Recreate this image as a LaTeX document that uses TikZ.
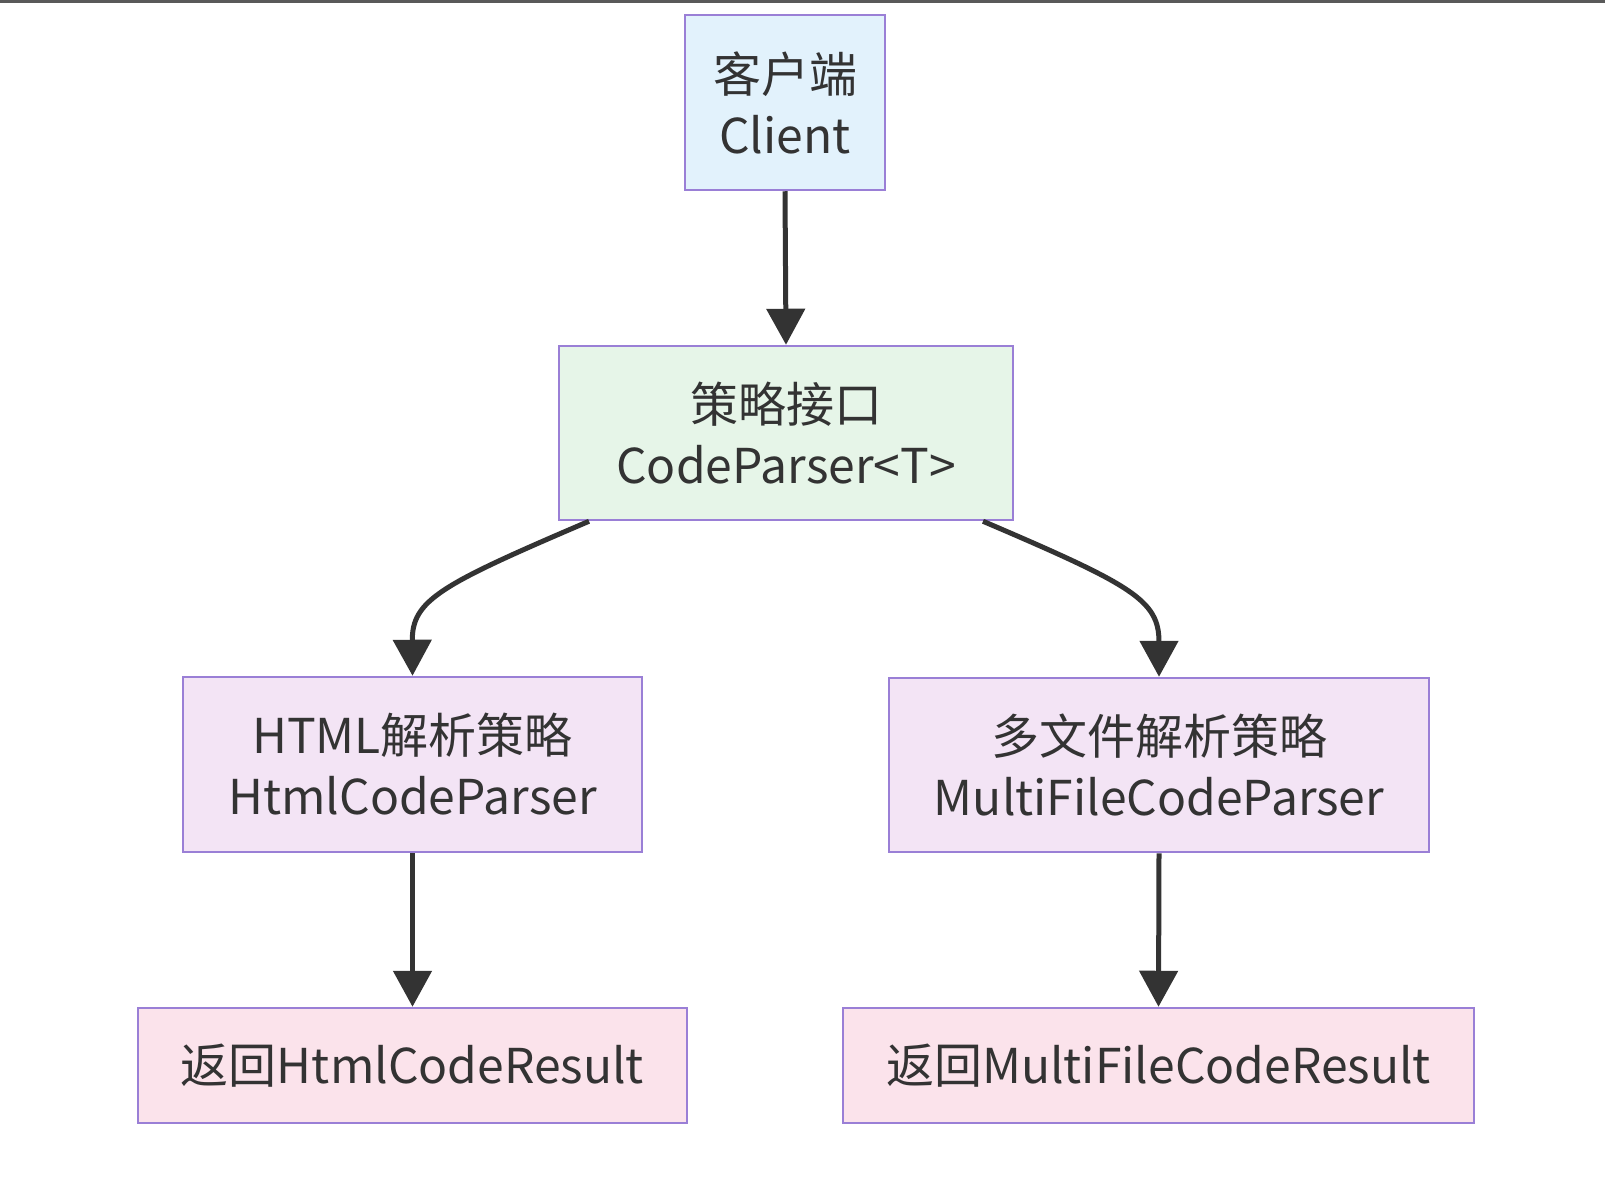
\documentclass[tikz,border=0pt]{standalone}
\usepackage{fontspec}
\setmainfont{Noto Sans CJK SC}
\usetikzlibrary{arrows.meta}
\definecolor{bordc}{HTML}{9A7FD6}
\definecolor{clientc}{HTML}{E2F2FC}
\definecolor{ifacec}{HTML}{E6F5E8}
\definecolor{stratc}{HTML}{F3E4F5}
\definecolor{resc}{HTML}{FBE3EB}
\definecolor{txtc}{HTML}{333333}
\tikzset{
  box/.style={draw=bordc, line width=2.5pt, inner sep=0pt, align=center,
    text=txtc, font=\fontsize{48}{61}\selectfont},
  conn/.style={draw=txtc, line width=5pt,
    -{Triangle[width=38pt,length=36pt]}},
}
\begin{document}
\begin{tikzpicture}[x=1pt,y=-1pt]
\useasboundingbox (0,0) rectangle (1605,1190);
\fill[white] (0,0) rectangle (1605,1190);
\fill[black!65] (0,0) rectangle (1605,3);
\node[box, fill=clientc, minimum width=200pt, minimum height=175pt] (client) at (785,102.5) {客户端\\Client};
\node[box, fill=ifacec, minimum width=454pt, minimum height=174pt] (iface) at (786,433) {策略接口\\CodeParser<T>};
\node[box, fill=stratc, minimum width=459pt, minimum height=175pt] (html) at (412.5,764.5) {HTML解析策略\\HtmlCodeParser};
\node[box, fill=stratc, minimum width=540pt, minimum height=174pt] (multi) at (1159,765) {多文件解析策略\\MultiFileCodeParser};
\node[box, fill=resc, minimum width=549pt, minimum height=115pt] (hres) at (412.5,1065.5) {返回HtmlCodeResult};
\node[box, fill=resc, minimum width=631pt, minimum height=115pt] (mres) at (1158.5,1065.5) {返回MultiFileCodeResult};
\coordinate (i1) at ([xshift=-197pt]iface.south);
\coordinate (i2) at ([xshift=197pt]iface.south);
\coordinate (h1) at (html.north);
\coordinate (m1) at (multi.north);
\draw[conn] (client.south) -- (iface.north);
\draw[conn] (i1) .. controls (440,585) and (412,600) .. (h1);
\draw[conn] (i2) .. controls (1132,585) and (1159,600) .. (m1);
\draw[conn] (html.south) -- (hres.north);
\draw[conn] (multi.south) -- (mres.north);
\end{tikzpicture}
\end{document}
